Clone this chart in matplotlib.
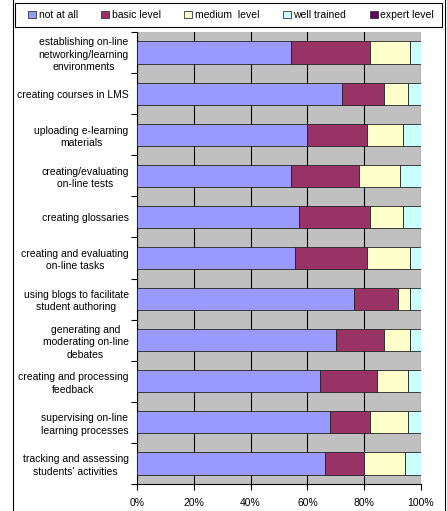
import numpy as np
import matplotlib.pyplot as plt
from matplotlib.patches import Patch, Rectangle
from matplotlib.lines import Line2D

plt.rcParams['font.family'] = ['Liberation Sans', 'DejaVu Sans']

# categories (top to bottom)
categories = [
    "establishing on-line\nnetworking/learning\nenvironments",
    "creating courses in LMS",
    "uploading e-learning\nmaterials",
    "creating/evaluating\non-line tests",
    "creating glossaries",
    "creating and evaluating\non-line tasks",
    "using blogs to facilitate\nstudent authoring",
    "generating and\nmoderating on-line\ndebates",
    "creating and processing\nfeedback",
    "supervising on-line\nlearning processes",
    "tracking and assessing\nstudents' activities",
]

# percentages per level
not_at_all = [54.4, 72.3, 60.0, 54.4, 57.1, 55.5, 76.4, 70.0, 64.4, 68.0, 66.3]
basic_level = [27.5, 14.8, 21.1, 23.9, 24.8, 25.6, 15.4, 17.1, 20.0, 13.9, 13.8]
medium_level = [14.2, 8.4, 12.7, 14.3, 11.9, 15.0, 4.3, 9.0, 11.1, 13.6, 14.4]
well_trained = [3.9, 4.5, 6.2, 7.4, 6.2, 3.9, 3.9, 3.9, 4.5, 4.5, 5.5]
expert_level = [0, 0, 0, 0, 0, 0, 0, 0, 0, 0, 0]

series = [not_at_all, basic_level, medium_level, well_trained, expert_level]
names = ["not at all", "basic level", "medium  level", "well trained", "expert level"]
colors = ["#9999ff", "#993366", "#ffffcc", "#ccffff", "#660066"]

fig = plt.figure(figsize=(4.47, 5.11), dpi=100)
ax = fig.add_axes([137 / 447, 1 - 484 / 511, 284 / 447, 452 / 511])
ax.set_facecolor("#c0c0c0")

y = np.arange(len(categories))
left = np.zeros(len(categories))
for vals, c in zip(series, colors):
    vals = np.array(vals)
    ax.barh(y, vals, left=left, height=0.54, color=c, edgecolor="#222222",
            linewidth=0.6, zorder=3)
    left += vals

ax.set_xlim(0, 100)
ax.set_ylim(len(categories) - 0.5, -0.5)
ax.set_xticks(np.arange(0, 101, 20))
ax.set_xticklabels([f"{v}%" for v in range(0, 101, 20)], fontsize=7.5)
ax.set_yticks(y)
ax.set_yticklabels(categories, fontsize=7.5, ha="right", multialignment="center",
                   linespacing=1.3)
ax.set_yticks(np.arange(-0.5, len(categories), 1), minor=True)
ax.tick_params(axis="y", which="major", length=0, pad=6)
ax.tick_params(axis="y", which="minor", length=4, width=0.8)
ax.tick_params(axis="x", length=4, width=0.8, pad=6)
ax.grid(axis="x", color="black", linewidth=0.8, zorder=1)
ax.set_axisbelow(True)
for s in ["top", "right"]:
    ax.spines[s].set_visible(False)
ax.spines["left"].set_linewidth(0.8)
ax.spines["bottom"].set_linewidth(0.8)

# legend frame drawn separately, entries spread inside it
fig.add_artist(Rectangle((15 / 447, 1 - 27 / 511), 427 / 447, 24 / 511,
                         transform=fig.transFigure, facecolor="white",
                         edgecolor="black", linewidth=0.8))
handles = [Patch(facecolor=c, edgecolor="#333333", linewidth=0.6) for c in colors]
leg = fig.legend(handles, names, loc="center", ncol=5, mode="expand",
                 bbox_to_anchor=(25 / 447, 1 - 27 / 511, 412 / 447, 24 / 511),
                 fontsize=7.5, frameon=False,
                 handlelength=0.75, handleheight=0.75, handletextpad=0.25,
                 borderaxespad=0, borderpad=0.3, columnspacing=1.0)

# outer frame lines
fig.add_artist(Line2D([13 / 447, 13 / 447], [0, 1], color="black", linewidth=0.8))
fig.add_artist(Line2D([445 / 447, 445 / 447], [0, 1], color="black", linewidth=0.8))

fig.savefig("out.png", dpi=100)
